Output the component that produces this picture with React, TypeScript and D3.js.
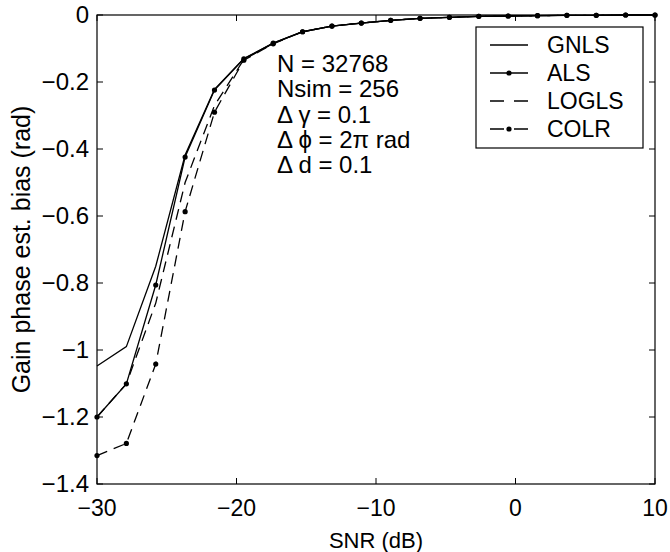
import React from "react";
import * as d3 from "d3";

const snr: number[] = [
  -30, -27.895, -25.789, -23.684, -21.579, -19.474, -17.368, -15.263, -13.158, -11.053,
  -8.947, -6.842, -4.737, -2.632, -0.526, 1.579, 3.684, 5.789, 7.895, 10,
];
const gnls: number[] = [
  -1.048, -0.99, -0.75, -0.418, -0.222, -0.13, -0.084, -0.05, -0.033, -0.024,
  -0.016, -0.01, -0.007, -0.004, -0.003, -0.002, -0.001, -0.001, 0, 0,
];
const als: number[] = [
  -1.2, -1.101, -0.806, -0.424, -0.224, -0.131, -0.084, -0.05, -0.033, -0.024,
  -0.016, -0.01, -0.007, -0.004, -0.003, -0.002, -0.001, -0.001, 0, 0,
];
const logls: number[] = [
  -1.2, -1.101, -0.86, -0.5, -0.27, -0.133, -0.085, -0.05, -0.033, -0.024,
  -0.016, -0.01, -0.007, -0.004, -0.003, -0.002, -0.001, -0.001, 0, 0,
];
const colr: number[] = [
  -1.315, -1.279, -1.042, -0.587, -0.29, -0.135, -0.086, -0.05, -0.033, -0.024,
  -0.016, -0.01, -0.007, -0.004, -0.003, -0.002, -0.001, -0.001, 0, 0,
];
const xTicks: number[] = [-30, -20, -10, 0, 10];
const yTicks: number[] = [0, -0.2, -0.4, -0.6, -0.8, -1, -1.2, -1.4];
const seriesNames: string[] = ["GNLS", "ALS", "LOGLS", "COLR"];
const annotation: string[] = ["N = 32768", "Nsim = 256", "Δ γ = 0.1", "Δ ϕ = 2π rad", "Δ d = 0.1"];

const W = 670, H = 552;
const L = 97, R = 655, T = 15, B = 484;
const font = "'Liberation Sans', Arial, Helvetica, sans-serif";

const fmt = (v: number) => {
  const s = v === 0 ? "0" : String(v);
  return s.replace("-", "\u2212");
};

export default function App() {
  const x = d3.scaleLinear().domain([-30, 10]).range([L, R]);
  const y = d3.scaleLinear().domain([-1.4, 0]).range([B, T]);
  const line = d3.line<[number, number]>().x((d) => x(d[0])).y((d) => y(d[1]));
  const pts = (vals: number[]) => snr.map((s, i) => [s, vals[i]] as [number, number]);

  const series = [
    { name: seriesNames[0], vals: gnls, dash: "none", marker: false },
    { name: seriesNames[1], vals: als, dash: "none", marker: true },
    { name: seriesNames[2], vals: logls, dash: "11,7", marker: false },
    { name: seriesNames[3], vals: colr, dash: "11,7", marker: true },
  ];

  const tickLen = 6;

  return (
    <svg width={W} height={H} style={{ position: "absolute", left: 0, top: 0, background: "#fff" }}>
      <rect x={0} y={0} width={W} height={H} fill="#fff" />
      <defs>
        <clipPath id="clip">
          <rect x={L - 4} y={T - 4} width={R - L + 8} height={B - T + 8} />
        </clipPath>
      </defs>
      {/* series */}
      <g clipPath="url(#clip)">
        {series.map((s) => (
          <g key={s.name}>
            <path d={line(pts(s.vals)) || ""} fill="none" stroke="#000" strokeWidth={1.3} strokeDasharray={s.dash} />
            {s.marker &&
              pts(s.vals).map((p, i) => <circle key={i} cx={x(p[0])} cy={y(p[1])} r={2.6} fill="#000" />)}
          </g>
        ))}
      </g>
      {/* axes box */}
      <rect x={L} y={T} width={R - L} height={B - T} fill="none" stroke="#000" strokeWidth={1.2} />
      {xTicks.map((t) => (
        <g key={"x" + t}>
          <line x1={x(t)} x2={x(t)} y1={B} y2={B - tickLen} stroke="#000" />
          <line x1={x(t)} x2={x(t)} y1={T} y2={T + tickLen} stroke="#000" />
          <text x={x(t)} y={516} fontSize={23} fontFamily={font} textAnchor="middle">
            {fmt(t)}
          </text>
        </g>
      ))}
      {yTicks.map((t) => (
        <g key={"y" + t}>
          <line x1={L} x2={L + tickLen} y1={y(t)} y2={y(t)} stroke="#000" />
          <line x1={R} x2={R - tickLen} y1={y(t)} y2={y(t)} stroke="#000" />
          <text x={89} y={y(t) + 8} fontSize={24} fontFamily={font} textAnchor="end">
            {fmt(t)}
          </text>
        </g>
      ))}
      <text x={(L + R) / 2} y={548} fontSize={22} fontFamily={font} textAnchor="middle">
        SNR (dB)
      </text>
      <text
        transform={`translate(30,${(T + B) / 2}) rotate(-90)`}
        fontSize={25}
        fontFamily={font}
        textAnchor="middle"
      >
        Gain phase est. bias (rad)
      </text>
      {/* annotation */}
      {annotation.map((a, i) => (
        <text key={a} x={277} y={72 + i * 25.3} fontSize={24} fontFamily={font}>
          {a}
        </text>
      ))}
      {/* legend */}
      <rect x={476} y={27} width={167} height={121} fill="#fff" stroke="#000" strokeWidth={1.2} />
      {series.map((s, i) => {
        const cy = 45 + i * 28;
        return (
          <g key={"lg" + s.name}>
            <line x1={490} x2={528} y1={cy} y2={cy} stroke="#000" strokeWidth={1.3} strokeDasharray={s.dash === "none" ? "none" : "14,10"} />
            {s.marker && <circle cx={509} cy={cy} r={2.6} fill="#000" />}
            <text x={547} y={cy + 8} fontSize={23} fontFamily={font}>
              {s.name}
            </text>
          </g>
        );
      })}
    </svg>
  );
}
